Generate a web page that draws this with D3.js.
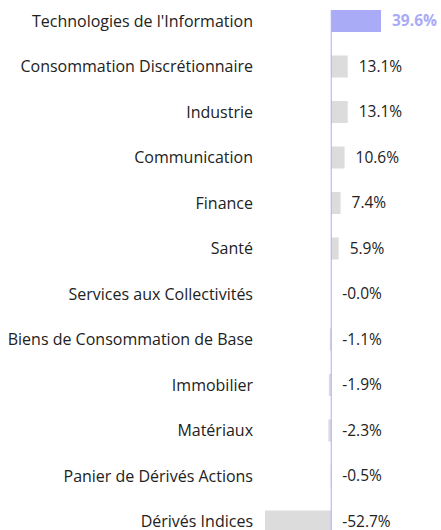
<!DOCTYPE html>
<html>
<head>
<meta charset="utf-8">
<script src="https://cdn.jsdelivr.net/npm/d3@7"></script>
<style>
body { margin: 0; background: #fff; }
svg { display: block; font-family: "Open Sans", sans-serif; }
</style>
</head>
<body>
<div class="container"></div>
<script>
var categories = [
    "Technologies de l'Information",
    "Consommation Discrétionnaire",
    "Industrie",
    "Communication",
    "Finance",
    "Santé",
    "Services aux Collectivités",
    "Biens de Consommation de Base",
    "Immobilier",
    "Matériaux",
    "Panier de Dérivés Actions",
    "Dérivés Indices"
];
var values = [39.6, 13.1, 13.1, 10.6, 7.4, 5.9, -0.02, -1.1, -1.9, -2.3, -0.5, -52.7];
var valueLabels = ["39.6%", "13.1%", "13.1%", "10.6%", "7.4%", "5.9%", "-0.0%", "-1.1%", "-1.9%", "-2.3%", "-0.5%", "-52.7%"];

var WIDTH = 441, HEIGHT = 530;
var HIGHLIGHT = '#aaabf7', GREY = '#dcdcdc', AXIS = '#aaabf7';

var rows = categories.map(function (c, i) {
    return {name: c, value: values[i], label: valueLabels[i], i: i};
});

var svg = d3.select('.container').append('svg')
    .attr('width', WIDTH)
    .attr('height', HEIGHT);

var xScale = d3.scaleLinear().domain([-52.7, 39.6]).range([265, 381]);
var yScale = d3.scaleBand().domain(categories).range([-13.5, 556]).padding(0.516);

svg.selectAll('rect.bar')
    .data(rows)
    .enter()
    .append('rect')
    .attr('class', 'bar')
    .attr('x', function (d) { return xScale(Math.min(0, d.value)); })
    .attr('y', function (d) { return yScale(d.name); })
    .attr('width', function (d) { return Math.abs(xScale(d.value) - xScale(0)); })
    .attr('height', yScale.bandwidth())
    .attr('fill', function (d) { return d.i === 0 ? HIGHLIGHT : GREY; });

svg.append('line')
    .attr('x1', xScale(0)).attr('x2', xScale(0))
    .attr('y1', yScale(categories[0])).attr('y2', HEIGHT)
    .attr('stroke', AXIS)
    .attr('stroke-width', 1);

svg.selectAll('text.cat')
    .data(rows)
    .enter()
    .append('text')
    .attr('class', 'cat')
    .attr('x', 253)
    .attr('y', function (d) { return yScale(d.name) + yScale.bandwidth() / 2; })
    .attr('dy', '0.35em')
    .attr('text-anchor', 'end')
    .attr('font-size', 16)
    .attr('fill', '#222')
    .text(function (d) { return d.name; });

svg.selectAll('text.val')
    .data(rows)
    .enter()
    .append('text')
    .attr('class', 'val')
    .attr('x', function (d) { return xScale(Math.max(0, d.value)) + 11; })
    .attr('y', function (d) { return yScale(d.name) + yScale.bandwidth() / 2; })
    .attr('dy', '0.35em')
    .attr('font-size', 15.5)
    .attr('font-weight', function (d) { return d.i === 0 ? 'bold' : 'normal'; })
    .attr('fill', function (d) { return d.i === 0 ? HIGHLIGHT : '#222'; })
    .text(function (d) { return d.label; });
</script>
</body>
</html>
